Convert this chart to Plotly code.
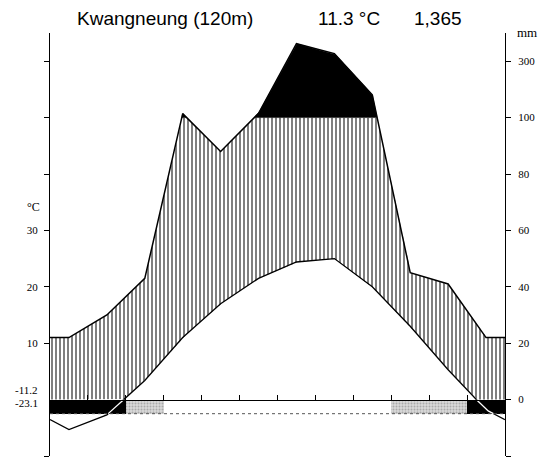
import numpy as np
import plotly.graph_objects as go

# ---- data ----
months = ["Jan", "Feb", "Mar", "Apr", "May", "Jun", "Jul", "Aug", "Sep", "Oct", "Nov", "Dec"]
temp_c = [-5.3, -2.7, 3.4, 11.0, 17.0, 21.5, 24.4, 25.0, 20.0, 13.0, 5.3, -1.8]
precip_mm = [22, 30, 43, 114, 88, 115, 362, 327, 181, 45, 41, 22]
frost = ["sure", "sure", "possible", "none", "none", "none", "none", "none", "none", "possible", "possible", "sure"]
station = "Kwangneung (120m)"
mean_temp = "11.3 °C"
annual_precip = "1,365"
min_labels = ["-11.2", "-23.1"]
left_tickvals = [-10, 10, 20, 30, 40, 50, 60]
left_ticktext = ["-10", "10", "20", "30", "", "", ""]
right_tickvals = [-10, 0, 10, 20, 30, 40, 50, 60]
right_ticktext = ["", "0", "20", "40", "60", "80", "100", "300"]

# page is offset by the default 8px body margin
OFF = 8
PAGE_W, PAGE_H = 553, 461
W, H = PAGE_W - OFF, PAGE_H - OFF
PL, PR, PT, PB = 50, 505, 33, 456   # plot area in page pixels
ML, MR, MT, MB = PL - OFF, PAGE_W - PR, PT - OFF, PAGE_H - PB
YMIN, YMAX = -10, 65
BAND = -2.5


def p_equiv(p):
    p = np.asarray(p, dtype=float)
    return np.where(p <= 100, p / 2.0, 50 + (p - 100) / 20.0)


def ext(v):
    v = np.asarray(v, dtype=float)
    e = (v[0] + v[-1]) / 2.0
    return np.concatenate([[e], v, [e]])


xc = np.arange(12) + 0.5
xe = np.concatenate([[0.0], xc, [12.0]])
T = ext(temp_c)
P = ext(p_equiv(precip_mm))

xd = np.linspace(0, 12, 2401)
Td = np.interp(xd, xe, T)
Pd = np.interp(xd, xe, P)
lower = np.maximum(Td, 0)
upper_h = np.minimum(Pd, 50)

fig = go.Figure()

# frost band
colors = {"sure": "black", "possible": "#d2d2d2", "none": "white"}
for kind in ["sure", "possible", "none"]:
    xs = [xc[i] for i in range(12) if frost[i] == kind]
    if not xs:
        continue
    pat = dict(shape=".", fgcolor="#7a7a7a", bgcolor="#d8d8d8", size=3, solidity=0.35) if kind == "possible" else None
    fig.add_trace(go.Bar(
        x=xs, y=[-BAND] * len(xs), base=[BAND] * len(xs), width=1.0,
        marker=dict(color=colors[kind], line=dict(width=0), pattern=pat),
        showlegend=False, hoverinfo="skip"))

# hatched humid area
fig.add_trace(go.Scatter(x=xd, y=lower, mode="lines", line=dict(width=0, color="black"),
                         showlegend=False, hoverinfo="skip"))
fig.add_trace(go.Scatter(x=xd, y=upper_h, mode="lines", line=dict(width=0, color="black"),
                         fill="tonexty", fillcolor="rgba(0,0,0,0)",
                         fillpattern=dict(shape="|", size=4, solidity=0.5, fgcolor="black", bgcolor="white"),
                         showlegend=False, hoverinfo="skip"))

# black perhumid area (>100 mm): closed polygons for each run above the 100 mm level
mask = Pd > 50
bx, by = [], []
i = 0
n = len(xd)
while i < n:
    if mask[i]:
        j = i
        while j + 1 < n and mask[j + 1]:
            j += 1
        seg_x = xd[i:j + 1]
        seg_y = Pd[i:j + 1]
        bx += list(seg_x) + list(seg_x[::-1]) + [seg_x[0], None]
        by += list(seg_y) + [50.0] * len(seg_x) + [seg_y[0], None]
        i = j + 1
    else:
        i += 1
fig.add_trace(go.Scatter(x=bx, y=by, mode="lines", line=dict(width=0.5, color="black"),
                         fill="toself", fillcolor="black", showlegend=False, hoverinfo="skip"))

# precipitation and temperature lines
fig.add_trace(go.Scatter(x=xe, y=P, mode="lines", line=dict(color="black", width=1.5),
                         showlegend=False, hoverinfo="skip"))
fig.add_trace(go.Scatter(x=xe, y=T, mode="lines", line=dict(color="black", width=1.3),
                         showlegend=False, hoverinfo="skip"))
# white part of temperature line inside the black frost band
idx = np.floor(np.clip(xd, 0, 11.999)).astype(int)
sure = np.array([frost[k] == "sure" for k in idx])
Tw = np.where(sure & (Td < 0) & (Td > BAND), Td, np.nan)
fig.add_trace(go.Scatter(x=xd, y=Tw, mode="lines", line=dict(color="white", width=1.3),
                         showlegend=False, hoverinfo="skip", connectgaps=False))

# invisible trace for right axis
fig.add_trace(go.Scatter(x=[xc[0]], y=[0], yaxis="y2", mode="markers", marker=dict(opacity=0),
                         showlegend=False, hoverinfo="skip"))

tickfont = dict(family="Liberation Serif", size=11, color="black")
zero_pos = (0 - YMIN) / (YMAX - YMIN)

fig.update_layout(
    width=W, height=H, margin=dict(l=ML, r=MR, t=MT, b=MB, autoexpand=False),
    paper_bgcolor="white", plot_bgcolor="white", bargap=0, barmode="overlay",
    xaxis=dict(range=[0, 12], showgrid=False, zeroline=False, anchor="free", position=zero_pos,
               showline=True, linecolor="black", linewidth=1, ticks="inside", ticklen=5,
               tickcolor="black", tickvals=list(range(1, 12)), showticklabels=False),
    yaxis=dict(range=[YMIN, YMAX], showgrid=False, zeroline=False, showline=True, linecolor="black",
               linewidth=1, ticks="outside", ticklen=5, tickcolor="black", automargin=False,
               ticklabelstandoff=4,
               tickvals=left_tickvals, ticktext=left_ticktext, tickfont=tickfont),
    yaxis2=dict(range=[YMIN, YMAX], overlaying="y", side="right", showgrid=False, zeroline=False,
                showline=True, linecolor="black", linewidth=1, ticks="outside", ticklen=5,
                tickcolor="black", tickvals=right_tickvals, ticktext=right_ticktext, tickfont=tickfont,
                ticklabelstandoff=5, automargin=False),
)

# dotted lower band edge
fig.add_shape(type="line", xref="x", yref="y", x0=0, x1=12, y0=BAND, y1=BAND,
              line=dict(color="#555", width=1, dash="dot"))


def px_x(px):
    return (px - PL) / (PR - PL)


def px_y(py):
    return (PB - py) / (PB - PT)


title_font = dict(family="Liberation Sans", size=19, color="black")
fig.add_annotation(text=station, xref="paper", yref="paper", x=px_x(165), y=px_y(18),
                   showarrow=False, font=title_font, xanchor="center", yanchor="middle")
fig.add_annotation(text=mean_temp, xref="paper", yref="paper", x=px_x(349), y=px_y(18),
                   showarrow=False, font=title_font, xanchor="center", yanchor="middle")
fig.add_annotation(text=annual_precip, xref="paper", yref="paper", x=px_x(438), y=px_y(18),
                   showarrow=False, font=title_font, xanchor="center", yanchor="middle")
fig.add_annotation(text="mm", xref="paper", yref="paper", x=px_x(527), y=px_y(32),
                   showarrow=False, font=dict(family="Liberation Serif", size=13, color="black"),
                   xanchor="center", yanchor="middle")
fig.add_annotation(text="°C", xref="paper", yref="paper", x=px_x(33), y=px_y(207),
                   showarrow=False, font=dict(family="Liberation Serif", size=12, color="black"),
                   xanchor="center", yanchor="middle")
fig.add_annotation(text=min_labels[0], xref="paper", yref="paper", x=px_x(40), y=px_y(390),
                   showarrow=False, font=tickfont, xanchor="right", yanchor="middle")
fig.add_annotation(text=min_labels[1], xref="paper", yref="paper", x=px_x(40), y=px_y(403),
                   showarrow=False, font=tickfont, xanchor="right", yanchor="middle")

fig.write_html("out.html")
